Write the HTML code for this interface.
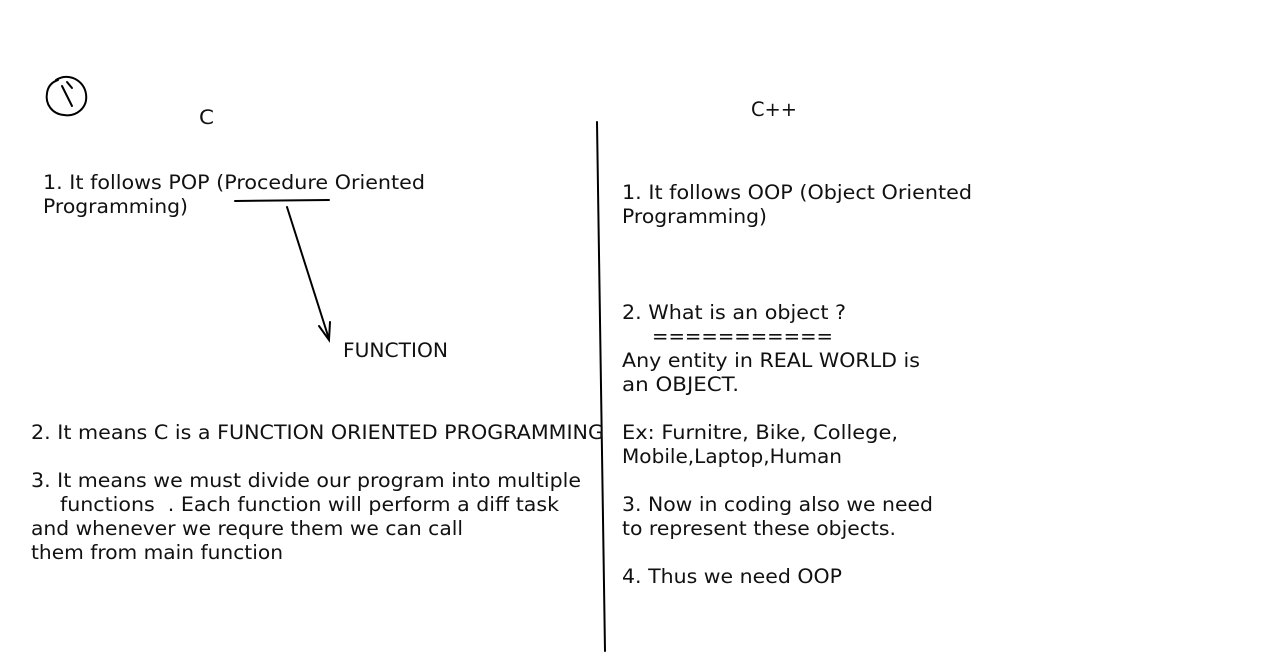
<!DOCTYPE html>
<html><head><meta charset="utf-8"><style>
html,body{margin:0;padding:0;background:#fff;}
svg{display:block}
text{font-family:"DejaVu Sans","Liberation Sans",sans-serif;font-size:19.5px;fill:#111;}
</style></head><body>
<svg width="1280" height="660" viewBox="0 0 1280 660" xmlns="http://www.w3.org/2000/svg">
<g fill="none" stroke="#000" stroke-width="2" stroke-linecap="round">
<path d="M56,80 C68,72 84,80 86,94 C88,108 76,117 64,115 C52,114 45,104 47,93 C48,86 52,82 58,80"/>
<path d="M62,86 L72,106 M67,82 L72,88"/>
<line x1="597" y1="122" x2="605" y2="651"/>
<line x1="235" y1="201" x2="329" y2="200"/>
<line x1="287" y1="207" x2="329" y2="339"/>
<path d="M319,326 L329,340 L330,322"/>
</g>
<g lengthAdjust="spacingAndGlyphs">
<text x="199" y="124" textLength="15" lengthAdjust="spacingAndGlyphs">C</text>
<text x="43" y="189" textLength="382" lengthAdjust="spacingAndGlyphs">1. It follows POP (Procedure Oriented</text>
<text x="43" y="213" textLength="145" lengthAdjust="spacingAndGlyphs">Programming)</text>
<text x="343" y="357" textLength="105" lengthAdjust="spacingAndGlyphs">FUNCTION</text>
<text x="31" y="439" textLength="573" lengthAdjust="spacingAndGlyphs">2. It means C is a FUNCTION ORIENTED PROGRAMMING</text>
<text x="31" y="487" textLength="550" lengthAdjust="spacingAndGlyphs">3. It means we must divide our program into multiple</text>
<text x="60" y="511" textLength="499" lengthAdjust="spacingAndGlyphs" xml:space="preserve">functions  . Each function will perform a diff task</text>
<text x="31" y="535" textLength="432" lengthAdjust="spacingAndGlyphs">and whenever we requre them we can call</text>
<text x="31" y="559" textLength="252" lengthAdjust="spacingAndGlyphs">them from main function</text>
<text x="751" y="116" textLength="46" lengthAdjust="spacingAndGlyphs">C++</text>
<text x="622" y="199" textLength="350" lengthAdjust="spacingAndGlyphs">1. It follows OOP (Object Oriented</text>
<text x="622" y="223" textLength="145" lengthAdjust="spacingAndGlyphs">Programming)</text>
<text x="622" y="319" textLength="224" lengthAdjust="spacingAndGlyphs">2. What is an object ?</text>
<text x="652" y="343" textLength="181" lengthAdjust="spacingAndGlyphs">===========</text>
<text x="622" y="367" textLength="298" lengthAdjust="spacingAndGlyphs">Any entity in REAL WORLD is</text>
<text x="622" y="391" textLength="117" lengthAdjust="spacingAndGlyphs">an OBJECT.</text>
<text x="622" y="439" textLength="276" lengthAdjust="spacingAndGlyphs">Ex: Furnitre, Bike, College,</text>
<text x="622" y="463" textLength="220" lengthAdjust="spacingAndGlyphs">Mobile,Laptop,Human</text>
<text x="622" y="511" textLength="311" lengthAdjust="spacingAndGlyphs">3. Now in coding also we need</text>
<text x="622" y="535" textLength="274" lengthAdjust="spacingAndGlyphs">to represent these objects.</text>
<text x="622" y="583" textLength="220" lengthAdjust="spacingAndGlyphs">4. Thus we need OOP</text>
</g>
</svg>
</body></html>
